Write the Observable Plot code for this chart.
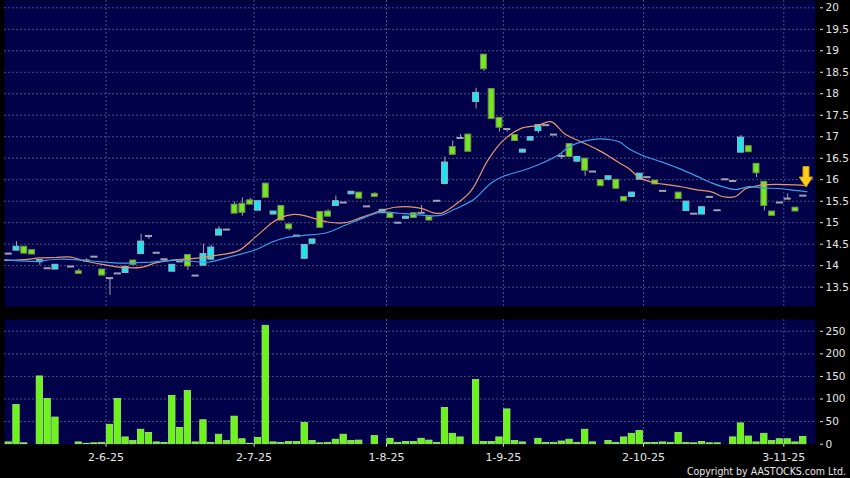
<!DOCTYPE html>
<html><head><meta charset="utf-8">
<script src="https://cdn.jsdelivr.net/npm/d3@7"></script>
<script src="https://cdn.jsdelivr.net/npm/@observablehq/plot@0.6"></script>
<style>
html,body{margin:0;padding:0;background:#000;}
#chart{position:relative;width:850px;height:478px;background:#000;overflow:hidden;}
#chart svg{display:block;}
#copy{position:absolute;right:4px;top:465px;color:#e6e6e6;font:10.5px "DejaVu Sans Condensed","DejaVu Sans",sans-serif;line-height:12px;white-space:nowrap;}
</style></head><body>
<div id="chart"><div id="copy">Copyright by AASTOCKS.com Ltd.</div></div>
<script>
// ---- data ----
const candleSlot  = [0,1,2,3,4,5,6,8,9,10,11,12,13,14,15,16,17,18,19,20,21,22,23,24,25,26,27,28,29,30,31,32,33,34,35,36,37,38,39,40,41,42,43,44,45,46,47,48,49,50,51,52,53,54,55,56,57,58,59,60,61,62,63,64,65,66,67,68,69,70,71,72,73,74,75,76,77,78,79,80,81,82,83,84,86,87,88,89,90,91,92,93,94,95,96,97,98,99,100,101,102];
const candleOpen  = [14.28,14.35,14.44,14.36,14.08,13.94,13.91,13.98,13.87,14.12,14.21,13.91,13.71,13.82,13.83,14.12,14.27,14.69,14.30,14.15,13.86,14.10,14.25,13.77,14.00,14.14,14.70,14.84,15.42,15.44,15.52,15.28,15.91,15.19,15.39,14.96,14.70,14.16,14.51,15.25,15.26,15.39,15.47,15.66,15.70,15.38,15.67,15.22,15.22,15.00,15.09,15.22,15.23,15.13,15.51,15.90,16.76,16.97,17.05,17.81,18.91,18.11,17.44,17.18,17.04,16.63,16.91,17.13,17.27,17.05,16.55,16.83,16.42,16.49,16.19,15.99,16.00,16.00,15.60,15.60,16.00,16.06,15.98,15.74,15.70,15.27,15.21,15.19,15.60,15.29,16.01,15.97,16.63,16.78,16.37,15.95,15.26,15.47,15.56,15.35,15.63];
const candleHigh  = [14.29,14.56,14.44,14.36,14.13,13.94,14.02,13.98,13.92,14.16,14.21,13.91,13.72,13.82,13.97,14.12,14.73,14.69,14.30,14.15,14.02,14.10,14.25,13.77,14.50,14.47,14.91,14.84,15.48,15.58,15.57,15.50,15.91,15.26,15.39,14.96,14.70,14.48,14.61,15.25,15.30,15.62,15.47,15.72,15.70,15.38,15.70,15.30,15.22,15.00,15.14,15.22,15.40,15.13,15.51,16.53,16.90,17.05,17.05,18.13,18.91,18.11,17.44,17.18,17.04,16.70,16.99,17.27,17.27,17.05,16.60,16.83,16.53,16.49,16.19,15.99,16.08,16.00,15.60,15.70,16.14,16.06,15.98,15.74,15.70,15.49,15.21,15.36,15.60,15.29,16.01,15.97,17.03,16.78,16.37,15.95,15.26,15.47,15.67,15.35,15.63];
const candleLow   = [14.27,14.35,14.28,14.26,14.00,13.94,13.91,13.98,13.81,14.12,14.21,13.77,13.31,13.82,13.83,14.02,14.27,14.61,14.30,14.10,13.86,14.10,13.89,13.77,14.00,14.14,14.70,14.84,15.21,15.15,15.42,15.28,15.58,15.19,15.05,14.81,14.70,14.16,14.51,14.88,15.14,15.39,15.47,15.66,15.56,15.38,15.60,15.22,15.11,14.96,15.09,15.11,15.23,15.05,15.51,15.90,16.58,16.97,16.65,17.65,18.52,17.41,17.11,17.11,16.90,16.63,16.91,17.08,17.27,17.05,16.47,16.53,16.42,16.08,16.19,15.85,15.98,15.79,15.50,15.60,16.00,16.06,15.89,15.74,15.55,15.27,15.21,15.19,15.60,15.29,16.01,15.97,16.63,16.64,16.05,15.27,15.16,15.47,15.56,15.26,15.63];
const candleClose = [14.28,14.44,14.28,14.26,14.13,13.94,14.02,13.98,13.81,14.12,14.21,13.77,13.71,13.82,13.97,14.02,14.56,14.69,14.30,14.15,14.02,14.10,13.98,13.77,14.27,14.42,14.84,14.84,15.21,15.23,15.42,15.50,15.58,15.26,15.05,14.85,14.70,14.48,14.61,14.88,15.14,15.50,15.47,15.72,15.56,15.38,15.60,15.30,15.11,15.00,15.14,15.11,15.23,15.05,15.51,16.40,16.58,16.97,16.65,18.02,18.57,17.41,17.21,17.18,16.90,16.70,16.99,17.27,17.27,17.05,16.55,16.53,16.53,16.21,16.19,15.85,16.08,15.79,15.50,15.70,16.14,16.06,15.89,15.74,15.55,15.49,15.21,15.36,15.60,15.29,16.01,15.97,16.98,16.64,16.15,15.39,15.16,15.47,15.56,15.26,15.63];

// volume per slot 0..102
const volume = [4,87,2,0,150,100,59,0,0,4,1,2,3,43,100,15,7,32,25,4,3,107,36,118,4,53,3,21,7,61,11,1,14,262,4,3,5,5,47,7,2,3,10,21,7,8,0,18,0,12,3,5,5,12,8,3,80,23,15,0,142,5,5,15,77,7,4,0,12,3,3,6,10,3,32,4,0,7,3,15,23,29,3,3,4,3,25,3,2,5,2,2,0,15,46,17,4,23,7,11,11,4,16];

// moving averages (sampled positions in trading-day slots)
const maFastAt = [-0.5,2,4,6,8,9.5,12,14.5,17,19,21.5,24.5,27,29.5,31.7,33.9,35.1,36.4,38.1,39.4,41.1,43.2,45.4,48,49.6,51.6,53.2,54.5,55.7,57.1,59.3,61.5,63.3,65.7,67.9,69.6,71.5,73.4,75.6,77.3,78.5,79.6,80.9,82.6,84.7,86.5,88.2,90.3,91.6,93.3,94.6,95.9,96.8,101,102.5];
const maFast   = [14.12,14.14,14.18,14.19,14.20,14.12,14.03,13.96,13.96,14.07,14.14,14.18,14.25,14.35,14.67,15.01,15.13,15.19,15.16,15.09,15.01,15.00,15.13,15.29,15.36,15.37,15.32,15.23,15.23,15.39,15.73,16.45,16.88,17.19,17.26,17.35,17.05,16.89,16.70,16.52,16.38,16.26,16.06,15.94,15.88,15.83,15.77,15.71,15.61,15.61,15.79,15.85,15.88,15.88,15.86];
const maSlowAt = [-0.5,3,6.5,10,14,18,22,25.5,28.3,31.7,33.8,35.5,37.7,40.7,43.2,45.8,47.9,50.1,52.2,55.4,57.1,59.7,61.9,63.5,66.1,68.3,70.6,72.3,75.1,77.3,78.5,79.6,81.3,83.9,86.5,88.6,90.3,91.6,93.3,95,96.7,99.3,101,102.5];
const maSlow   = [14.14,14.10,14.15,14.12,14.06,14.08,14.13,14.08,14.20,14.37,14.55,14.65,14.70,14.76,14.94,15.13,15.25,15.22,15.19,15.17,15.30,15.54,15.92,16.08,16.22,16.37,16.58,16.80,16.94,16.93,16.87,16.72,16.57,16.41,16.23,16.06,15.92,15.84,15.77,15.84,15.81,15.79,15.75,15.72];

const priceTicks = [13.5,14,14.5,15,15.5,16,16.5,17,17.5,18,18.5,19,19.5,20];
const volTicks = [0,50,100,150,200,250];
const dateTickAt = [12.5,31.5,48.5,63.5,81.5,99.5];
const dateLabels = ["2-6-25","2-7-25","1-8-25","1-9-25","2-10-25","3-11-25"];
const markerAt = [{slot:102, price:15.83}];

// ---- build ----
const navy = "#01014a";
const gridStroke = "#4c4c86";
const dash = "2,2";
const grayC = "#a2a2b0";
const xDomain = [-0.54, 103.57];

const candles = candleSlot.map((s,i)=>({s, o:candleOpen[i], h:candleHigh[i], l:candleLow[i], c:candleClose[i]}));
const up = candles.filter(d=>d.c>d.o);
const down = candles.filter(d=>d.c<d.o);
const flat = candles.filter(d=>d.c===d.o);
const fastData = maFastAt.map((s,i)=>({s, v:maFast[i]}));
const slowData = maSlowAt.map((s,i)=>({s, v:maSlow[i]}));
const volData = volume.map((v,s)=>({s,v})).filter(d=>d.v>0);

const arrowSymbol = {
  draw(ctx) {
    ctx.moveTo(0,0);
    ctx.lineTo(-6.8,-10);
    ctx.lineTo(-3,-10);
    ctx.lineTo(-3,-20.5);
    ctx.lineTo(3,-20.5);
    ctx.lineTo(3,-10);
    ctx.lineTo(6.8,-10);
    ctx.closePath();
  }
};

const baseStyle = {fontFamily:"DejaVu Sans", fontSize:"10.5px", color:"#e6e6e6", background:"transparent", overflow:"visible"};

const upper = Plot.plot({
  width:850, height:306,
  marginLeft:4, marginRight:35, marginTop:0, marginBottom:0,
  style: baseStyle,
  x:{domain:xDomain, axis:null, label:null},
  y:{domain:[13.05,20.17], label:null},
  marks:[
    Plot.frame({fill:navy, stroke:"none"}),
    Plot.ruleY(priceTicks, {stroke:gridStroke, strokeDasharray:dash}),
    Plot.ruleX(dateTickAt, {stroke:gridStroke, strokeDasharray:dash}),
    Plot.ruleX(candles.filter(d=>d.h>d.l), {x:"s", y1:"l", y2:"h", stroke:grayC, strokeWidth:1}),
    Plot.rect(up, {x1:d=>d.s-0.38, x2:d=>d.s+0.38, y1:"o", y2:"c", fill:"#1ee4ef", stroke:"#93b6c6", strokeWidth:1}),
    Plot.rect(down, {x1:d=>d.s-0.38, x2:d=>d.s+0.38, y1:"o", y2:"c", fill:"#78e61e", stroke:"#6f8f55", strokeWidth:1}),
    Plot.ruleY(flat, {y:"c", x1:d=>d.s-0.46, x2:d=>d.s+0.46, stroke:grayC, strokeWidth:2}),
    Plot.line(fastData, {x:"s", y:"v", stroke:"#e8966c", strokeWidth:1.2, curve:"catmull-rom"}),
    Plot.line(slowData, {x:"s", y:"v", stroke:"#3c9ee6", strokeWidth:1.2, curve:"catmull-rom"}),
    Plot.dot(markerAt, {x:"slot", y:"price", symbol:arrowSymbol, fill:"#ffcf1c", stroke:"#d99a00", strokeWidth:1, dx:2.7, r:5}),
    Plot.axisY({ticks:priceTicks, anchor:"right", label:null, tickSize:3, tickPadding:3, dx:4, tickFormat:d=>String(d)})
  ]
});

const lower = Plot.plot({
  width:850, height:172,
  marginLeft:4, marginRight:35, marginTop:13, marginBottom:34.3,
  style: baseStyle,
  x:{domain:xDomain, label:null},
  y:{domain:[0,276], label:null},
  marks:[
    Plot.frame({fill:navy, stroke:"none"}),
    Plot.ruleY(volTicks.filter(v=>v>0), {stroke:gridStroke, strokeDasharray:dash}),
    Plot.ruleX(dateTickAt, {stroke:gridStroke, strokeDasharray:dash}),
    Plot.rect(volData, {x1:d=>d.s-0.41, x2:d=>d.s+0.41, y1:0, y2:"v", fill:"#6cf31a", stroke:"#9cf06a", strokeWidth:0.8}),
    Plot.axisY({ticks:volTicks, anchor:"right", label:null, tickSize:3, tickPadding:3, dx:4, tickFormat:d=>String(d)}),
    Plot.axisX({ticks:dateTickAt, anchor:"bottom", label:null, tickSize:3, tickPadding:6, fontSize:11, tickFormat:d=>dateLabels[dateTickAt.indexOf(d)]})
  ]
});

const host = document.getElementById("chart");
host.insertBefore(lower, host.firstChild);
host.insertBefore(upper, host.firstChild);
</script>
</body></html>
